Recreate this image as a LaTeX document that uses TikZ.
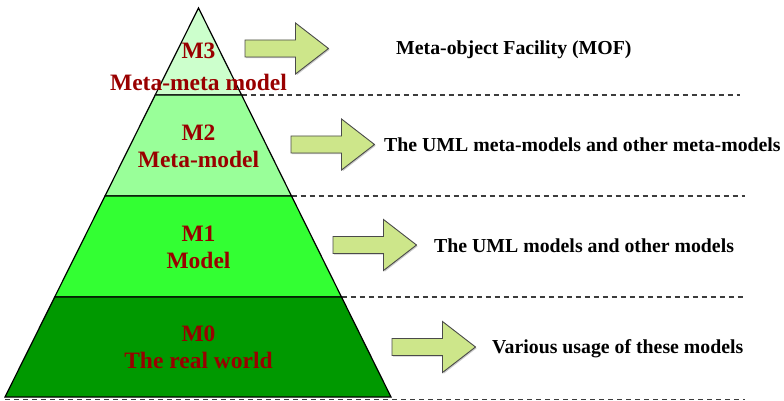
\documentclass[tikz,border=0pt]{standalone}
\usepackage{fontspec}
\setmainfont{Liberation Serif}
\usetikzlibrary{shadows}
\definecolor{bandA}{HTML}{CCFFCC}
\definecolor{bandB}{HTML}{99FF99}
\definecolor{bandC}{HTML}{33FF33}
\definecolor{bandD}{HTML}{009900}
\definecolor{labelred}{HTML}{990000}
\definecolor{arrowfill}{HTML}{CDE68A}
\definecolor{arrowedge}{HTML}{4A4A4A}
\definecolor{guide}{HTML}{3C3C3C}
\tikzset{
  band/.style={draw=black, line width=1.2pt, line join=miter},
  guideline/.style={draw=guide, line width=1.3pt, dash pattern=on 5pt off 4pt},
  levellabel/.style={align=center, text=labelred, inner sep=0pt,
    font=\fontsize{23.5}{27}\selectfont\bfseries},
  desc/.style={anchor=west, inner sep=0pt, text=black,
    font=\fontsize{19.8}{23}\selectfont\bfseries},
  arrowbody/.style={fill=arrowfill, draw=arrowedge, line width=0.9pt,
    drop shadow={shadow xshift=1.2pt, shadow yshift=-1.2pt, opacity=0.35, fill=black!60}},
  pics/fatarrow/.style={code={
    \path[arrowbody] (0,-8.5) -- (50.5,-8.5) -- (50.5,-25.5) -- (83.5,0)
      -- (50.5,25.5) -- (50.5,8.5) -- (0,8.5) -- cycle;}}
}
\begin{document}
\begin{tikzpicture}[x=1pt, y=-1pt]
\useasboundingbox (0,0) rectangle (784,401);

% corner points of the pyramid and its level boundaries
\coordinate (apex) at (198.5,8);
\coordinate (aL) at (155.2,95);  \coordinate (aR) at (241.6,95);
\coordinate (bL) at (105,196);   \coordinate (bR) at (291.5,196);
\coordinate (cL) at (54.7,297);  \coordinate (cR) at (341.5,297);
\coordinate (dL) at (5,397);     \coordinate (dR) at (391,397);

% ends of the dashed level separators
\coordinate (aE) at (740,95);
\coordinate (bE) at (745,196);
\coordinate (cE) at (745,297);
\coordinate (dS) at (5,399.5);
\coordinate (dE) at (745,399.5);

\draw[guideline] (aR) -- (aE);
\draw[guideline] (bR) -- (bE);
\draw[guideline] (cR) -- (cE);
\draw[guideline] (dS) -- (dE);

% pyramid bands
\filldraw[band, fill=bandA] (apex) -- (aR) -- (aL) -- cycle;
\filldraw[band, fill=bandB] (aL) -- (aR) -- (bR) -- (bL) -- cycle;
\filldraw[band, fill=bandC] (bL) -- (bR) -- (cR) -- (cL) -- cycle;
\filldraw[band, fill=bandD] (cL) -- (cR) -- (dR) -- (dL) -- cycle;

% level labels
\node[levellabel] (m3) at (198.5,67) {M3\\[5pt]Meta-meta model};
\node[levellabel] (m2) at (198.5,146.5) {M2\\Meta-model};
\node[levellabel] (m1) at (198.5,247) {M1\\Model};
\node[levellabel] (m0) at (198.5,347) {M0\\The real world};

% block arrows
\pic at (245,48.5) {fatarrow};
\pic at (291,144.5) {fatarrow};
\pic at (333,245) {fatarrow};
\pic at (392,347) {fatarrow};

% descriptions
\node[desc] (d3) at (396,49.5) {Meta-object Facility (MOF)};
\node[desc] (d2) at (384,145) {The UML meta-models and other meta-models};
\node[desc] (d1) at (434,246) {The UML models and other models};
\node[desc] (d0) at (492,348.5) {Various usage of these models};
\end{tikzpicture}
\end{document}
